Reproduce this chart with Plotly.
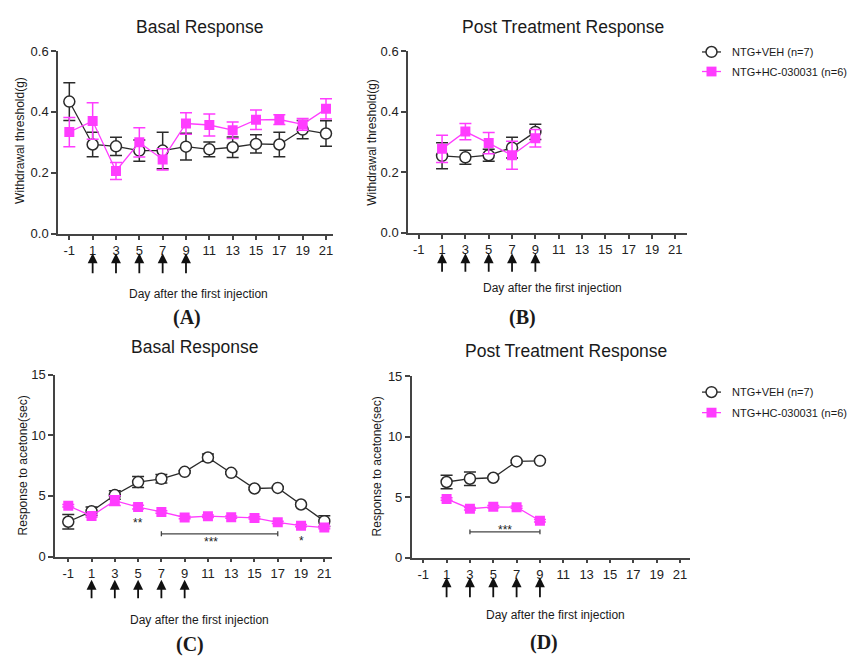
import plotly.graph_objects as go

W, H = 851, 664

# ---------------- data ----------------
days_basal = [-1, 1, 3, 5, 7, 9, 11, 13, 15, 17, 19, 21]
days_post = [1, 3, 5, 7, 9]
injection_days = [1, 3, 5, 7, 9]
x_ticks = [-1, 1, 3, 5, 7, 9, 11, 13, 15, 17, 19, 21]

veh_name = "NTG+VEH (n=7)"
hc_name = "NTG+HC-030031 (n=6)"

# (A) withdrawal threshold, basal
A_veh = [0.434, 0.293, 0.287, 0.273, 0.273, 0.286, 0.277, 0.284, 0.295, 0.293, 0.342, 0.329]
A_veh_err = [0.062, 0.040, 0.030, 0.035, 0.060, 0.044, 0.024, 0.034, 0.030, 0.040, 0.030, 0.042]
A_hc = [0.334, 0.370, 0.206, 0.300, 0.244, 0.362, 0.357, 0.340, 0.374, 0.375, 0.359, 0.410]
A_hc_err = [0.048, 0.060, 0.028, 0.048, 0.035, 0.035, 0.036, 0.027, 0.032, 0.016, 0.019, 0.033]

# (B) withdrawal threshold, post treatment
B_veh = [0.254, 0.249, 0.256, 0.281, 0.333]
B_veh_err = [0.043, 0.023, 0.020, 0.034, 0.025]
B_hc = [0.277, 0.334, 0.296, 0.256, 0.312]
B_hc_err = [0.045, 0.027, 0.035, 0.046, 0.029]

# (C) response to acetone, basal
C_veh = [2.87, 3.73, 5.07, 6.14, 6.41, 6.98, 8.16, 6.90, 5.61, 5.66, 4.29, 2.92]
C_veh_err = [0.60, 0.35, 0.35, 0.45, 0.35, 0.10, 0.30, 0.10, 0.10, 0.10, 0.10, 0.45]
C_hc = [4.19, 3.35, 4.61, 4.08, 3.68, 3.22, 3.33, 3.25, 3.19, 2.82, 2.55, 2.39]
C_hc_err = [0.10, 0.10, 0.40, 0.15, 0.10, 0.10, 0.10, 0.10, 0.10, 0.10, 0.10, 0.10]

# (D) response to acetone, post treatment
D_veh = [6.25, 6.52, 6.60, 7.95, 8.00]
D_veh_err = [0.55, 0.55, 0.10, 0.10, 0.10]
D_hc = [4.85, 4.04, 4.20, 4.17, 3.04]
D_hc_err = [0.10, 0.10, 0.10, 0.10, 0.10]

# significance marks: (x, y, text)
C_stars = [(5, 3.0, "**"), (11.3, 1.47, "***"), (19, 1.53, "*")]
C_bracket = (7, 17, 1.88)
D_stars = [(6, 2.55, "***")]
D_bracket = (3, 9, 2.13)

# ---------------- style ----------------
BLACK = "#2b2b2b"
MAG = "#ff3cff"
FONT = "Liberation Sans, Arial, sans-serif"


def fx(px):
    return px / W


def fy(py):
    return 1 - py / H


fig = go.Figure()


def add_panel(idx, xs, veh, veh_err, hc, hc_err):
    xa = "x" if idx == 1 else f"x{idx}"
    ya = "y" if idx == 1 else f"y{idx}"
    fig.add_trace(go.Scatter(
        x=xs, y=veh, name=veh_name, xaxis=xa, yaxis=ya, mode="lines+markers",
        line=dict(color=BLACK, width=1.3),
        marker=dict(symbol="circle", size=11, color="white", line=dict(color=BLACK, width=1.5)),
        error_y=dict(type="data", array=veh_err, color=BLACK, thickness=1.5, width=6),
        showlegend=False))
    fig.add_trace(go.Scatter(
        x=xs, y=hc, name=hc_name, xaxis=xa, yaxis=ya, mode="lines+markers",
        line=dict(color=MAG, width=1.3),
        marker=dict(symbol="square", size=10, color=MAG, line=dict(color=MAG, width=0)),
        error_y=dict(type="data", array=hc_err, color=MAG, thickness=1.5, width=6),
        showlegend=False))


add_panel(1, days_basal, A_veh, A_veh_err, A_hc, A_hc_err)
add_panel(2, days_post, B_veh, B_veh_err, B_hc, B_hc_err)
add_panel(3, days_basal, C_veh, C_veh_err, C_hc, C_hc_err)
add_panel(4, days_post, D_veh, D_veh_err, D_hc, D_hc_err)

# brackets
for idx, (b0, b1, by) in [(3, C_bracket), (4, D_bracket)]:
    cap = 0.2
    fig.add_trace(go.Scatter(
        x=[b0, b1, None, b0, b0, None, b1, b1],
        y=[by, by, None, by - cap, by + cap, None, by - cap, by + cap],
        xaxis=f"x{idx}", yaxis=f"y{idx}", mode="lines",
        line=dict(color="#444", width=1.3), showlegend=False, hoverinfo="skip"))

# axes
panels = {
    1: dict(xd=(58, 333), xr=(-1.97, 21.6), yd=(232, 45), yr=(0, 0.6), yt=[0, 0.2, 0.4, 0.6], fmt=".1f"),
    2: dict(xd=(408, 687), xr=(-1.92, 22.0), yd=(231, 45), yr=(0, 0.6), yt=[0, 0.2, 0.4, 0.6], fmt=".1f"),
    3: dict(xd=(55, 332), xr=(-2.14, 21.66), yd=(562.3, 376), yr=(0, 15), yt=[0, 5, 10, 15], fmt="d"),
    4: dict(xd=(411.7, 690), xr=(-1.99, 21.86), yd=(563.3, 377.7), yr=(0, 15), yt=[0, 5, 10, 15], fmt="d"),
}
layout_axes = {}
for idx, p in panels.items():
    xk = "xaxis" if idx == 1 else f"xaxis{idx}"
    yk = "yaxis" if idx == 1 else f"yaxis{idx}"
    xa = "x" if idx == 1 else f"x{idx}"
    ya = "y" if idx == 1 else f"y{idx}"
    layout_axes[xk] = dict(
        domain=[fx(p["xd"][0]), fx(p["xd"][1])], range=list(p["xr"]), anchor=ya,
        tickmode="array", tickvals=x_ticks, ticktext=[str(v) for v in x_ticks],
        ticks="outside", ticklen=4, tickwidth=1.5, tickcolor="#444",
        showline=True, linecolor="#444", linewidth=1.5, showgrid=False, zeroline=False,
        tickfont=dict(family=FONT, size=13, color="#222"), fixedrange=True)
    layout_axes[yk] = dict(
        domain=[fy(p["yd"][0]), fy(p["yd"][1])], range=list(p["yr"]), anchor=xa,
        tickmode="array", tickvals=p["yt"], tickformat=p["fmt"],
        ticks="outside", ticklen=5, tickwidth=1.5, tickcolor="#444",
        showline=True, linecolor="#444", linewidth=1.5, showgrid=False, zeroline=False,
        tickfont=dict(family=FONT, size=13, color="#222"), fixedrange=True)

annotations = []
shapes = []


def text(s, x, y, size, angle=0, family=FONT, bold=False, xanchor="center"):
    annotations.append(dict(
        text=f"<b>{s}</b>" if bold else s, x=fx(x), y=fy(y), xref="paper", yref="paper",
        showarrow=False, xanchor=xanchor, yanchor="middle", textangle=angle,
        font=dict(family=family, size=size, color="#1a1a1a")))


# titles
text("Basal Response", 199, 20, 17.5)
text("Post Treatment Response", 563, 20, 17.5)
text("Basal Response", 194, 348, 17.5)
text("Post Treatment Response", 566, 352, 17.5)
# x titles
text("Day after the first injection", 198, 294, 12)
text("Day after the first injection", 552, 288, 12)
text("Day after the first injection", 199, 627, 12)
text("Day after the first injection", 555, 622, 12)
# y titles
text("Withdrawal threshold(g)", 20, 137, 12, angle=-90)
text("Withdrawal threshold(g)", 372, 139, 12, angle=-90)
text("Response to acetone(sec)", 23, 469, 12, angle=-90)
text("Response to acetone(sec)", 377, 470, 12, angle=-90)
# panel labels
SERIF = "Liberation Serif, Times New Roman, serif"
text("(A)", 187, 318, 20, family=SERIF, bold=True)
text("(B)", 522, 318, 20, family=SERIF, bold=True)
text("(C)", 190, 652, 20, family=SERIF, bold=True)
text("(D)", 544, 650, 20, family=SERIF, bold=True)

# custom legends (layout shapes + text)
for row_veh, row_hc in [(46, 66), (394, 415)]:
    x0, x1, xc = 702, 721, 711.5
    # vehicle row
    shapes.append(dict(type="line", xref="paper", yref="paper", x0=fx(x0), x1=fx(x1),
                       y0=fy(row_veh), y1=fy(row_veh), line=dict(color=BLACK, width=1.3)))
    shapes.append(dict(type="circle", xref="paper", yref="paper",
                       x0=fx(xc - 5.5), x1=fx(xc + 5.5), y0=fy(row_veh + 5.5), y1=fy(row_veh - 5.5),
                       fillcolor="white", line=dict(color=BLACK, width=1.5)))
    text(veh_name, 730, row_veh, 11, xanchor="left")
    # HC row
    shapes.append(dict(type="line", xref="paper", yref="paper", x0=fx(x0), x1=fx(x1),
                       y0=fy(row_hc), y1=fy(row_hc), line=dict(color=MAG, width=1.3)))
    shapes.append(dict(type="rect", xref="paper", yref="paper",
                       x0=fx(xc - 5), x1=fx(xc + 5), y0=fy(row_hc + 5), y1=fy(row_hc - 5),
                       fillcolor=MAG, line=dict(color=MAG, width=0)))
    text(hc_name, 730, row_hc, 11, xanchor="left")

# arrows for injection days
for xa, tip, tail in [("x", 252, 273.5), ("x2", 252, 272), ("x3", 586, 606), ("x4", 583.5, 605)]:
    for d in injection_days:
        annotations.append(dict(
            x=d, y=fy(tip), xref=xa, yref="paper", text="", showarrow=True,
            ax=0, ay=tail - tip, axref="pixel", ayref="pixel",
            arrowhead=2, arrowsize=1.1, arrowwidth=1.8, arrowcolor="#111"))

# significance stars
for xa, ya, stars in [("x3", "y3", C_stars), ("x4", "y4", D_stars)]:
    for sx, sy, s in stars:
        annotations.append(dict(
            x=sx, y=sy, xref=xa, yref=ya, text=s, showarrow=False, yshift=-3,
            font=dict(family=FONT, size=12, color="#222")))

fig.update_layout(
    width=W, height=H, margin=dict(l=0, r=0, t=0, b=0),
    paper_bgcolor="white", plot_bgcolor="white",
    font=dict(family=FONT, size=12, color="#222"),
    showlegend=False,
    annotations=annotations,
    shapes=shapes,
    **layout_axes,
)

fig.write_html("out.html")
